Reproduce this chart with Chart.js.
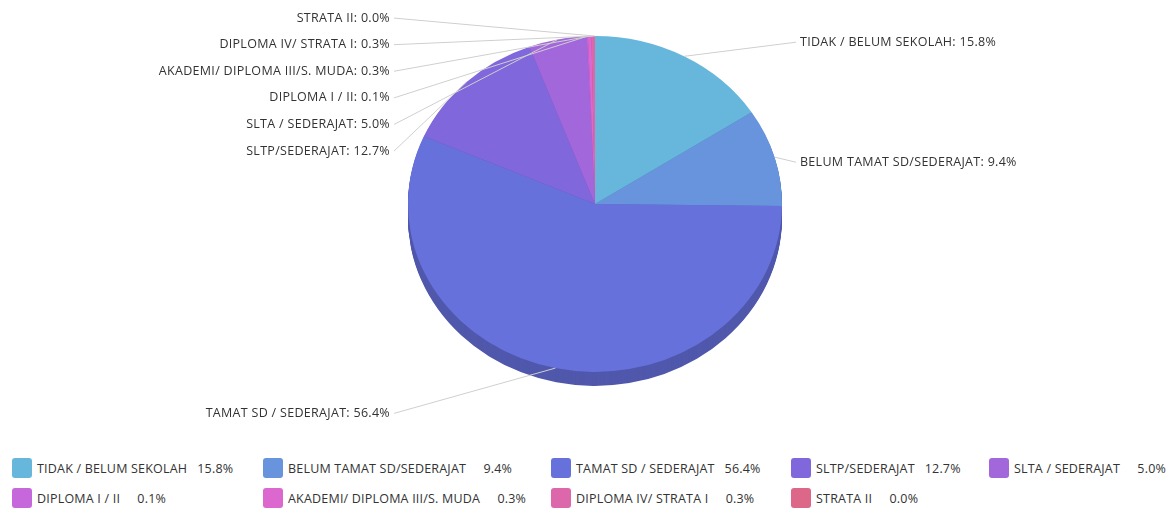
<!DOCTYPE html>
<html>
<head>
<meta charset="utf-8">
<script src="https://cdn.jsdelivr.net/npm/chart.js@4.4.0/dist/chart.umd.min.js"></script>
<style>
  body { margin: 0; background: #fff; font-family: "Open Sans", sans-serif; }
  #wrap { position: relative; width: 1175px; height: 508px; overflow: hidden; }
  #box { position: absolute; left: 0; top: 0; width: 1175px; height: 450px; }
  #legend { position: absolute; left: 12px; top: 458px; display: grid;
    grid-template-columns: 251px 288px 240px 198px 190px; row-gap: 10px; }
  .item { display: flex; align-items: center; height: 20px; font-size: 12.5px; letter-spacing: 0.2px; color: #333; white-space: nowrap; }
  .sw { width: 20px; height: 20px; border-radius: 3px; margin-right: 5px; flex: none; }
  .val { min-width: 46px; text-align: right; }
</style>
</head>
<body>
<div id="wrap">
  <div id="box"><canvas id="myChart"></canvas></div>
  <div id="legend"></div>
</div>
<script>
let categories = [
    'TIDAK / BELUM SEKOLAH',
    'BELUM TAMAT SD/SEDERAJAT',
    'TAMAT SD / SEDERAJAT',
    'SLTP/SEDERAJAT',
    'SLTA / SEDERAJAT',
    'DIPLOMA I / II',
    'AKADEMI/ DIPLOMA III/S. MUDA',
    'DIPLOMA IV/ STRATA I',
    'STRATA II'
];
let percents = [15.8, 9.4, 56.4, 12.7, 5.0, 0.1, 0.3, 0.3, 0.0];
let colors = ['#67b7dc', '#6794dc', '#6771dc', '#8067dc', '#a367dc', '#c767dc', '#dc67ce', '#dc67ab', '#dc6788'];

const squash = 0.898;
const depth = 14;

function darker(hex, f) {
    let n = parseInt(hex.slice(1), 16);
    let r = Math.round(((n >> 16) & 255) * f);
    let g = Math.round(((n >> 8) & 255) * f);
    let b = Math.round((n & 255) * f);
    return 'rgb(' + r + ',' + g + ',' + b + ')';
}

// flattens the pie, draws the side and the outside labels
const pie3d = {
    id: 'pie3d',
    beforeDatasetsDraw(chart) {
        let ctx = chart.ctx;
        let arcs = chart.getDatasetMeta(0).data;
        if (!arcs.length) return;
        let cx = arcs[0].x, cy = arcs[0].y, r = arcs[0].outerRadius;
        ctx.save();
        for (let d = depth; d >= 1; d--) {
            arcs.forEach(function (a, i) {
                if (a.endAngle - a.startAngle <= 0) return;
                ctx.beginPath();
                ctx.moveTo(cx, cy + d);
                ctx.ellipse(cx, cy + d, r, r * squash, 0, a.startAngle, a.endAngle);
                ctx.closePath();
                ctx.fillStyle = darker(colors[i], 0.78);
                ctx.fill();
            });
        }
        ctx.restore();
        ctx.save();
        ctx.translate(0, cy);
        ctx.scale(1, squash);
        ctx.translate(0, -cy);
    },
    afterDatasetsDraw(chart) {
        let ctx = chart.ctx;
        ctx.restore();
        let arcs = chart.getDatasetMeta(0).data;
        if (!arcs.length) return;
        let cx = arcs[0].x, cy = arcs[0].y, r = arcs[0].outerRadius;
        let ry = r * squash;
        let items = arcs.map(function (a, i) {
            let mid = (a.startAngle + a.endAngle) / 2;
            return {
                i: i,
                ex: cx + r * Math.cos(mid),
                ey: cy + ry * Math.sin(mid),
                left: Math.cos(mid) < -0.0001 || Math.abs(mid - 1.5 * Math.PI) < 0.001 || Math.abs(mid + 0.5 * Math.PI) < 0.001,
                y: cy + depth + (ry + 32) * Math.sin(mid)
            };
        });
        [true, false].forEach(function (side) {
            let list = items.filter(function (o) { return o.left === side; });
            list.sort(function (p, q) { return p.y - q.y; });
            for (let k = 1; k < list.length; k++) {
                if (list[k].y < list[k - 1].y + 26.6) list[k].y = list[k - 1].y + 26.6;
            }
        });
        ctx.save();
        ctx.font = '12.5px "Open Sans"';
        ctx.letterSpacing = '0.3px';
        ctx.textBaseline = 'middle';
        items.forEach(function (o) {
            let tx = o.left ? cx - r - 18 : cx + r + 18;
            ctx.strokeStyle = '#cfcfcf';
            ctx.lineWidth = 1;
            ctx.beginPath();
            ctx.moveTo(o.left ? tx + 4 : tx - 4, o.y);
            ctx.lineTo(o.ex, o.ey);
            ctx.stroke();
            ctx.fillStyle = '#333';
            ctx.textAlign = o.left ? 'right' : 'left';
            ctx.fillText(categories[o.i] + ': ' + percents[o.i].toFixed(1) + '%', tx, o.y);
        });
        ctx.restore();
    }
};

let ctx = document.getElementById('myChart');
let myChart = new Chart(ctx, {
    type: 'pie',
    data: {
        labels: categories,
        datasets: [{
            data: percents,
            backgroundColor: colors,
            borderWidth: 0
        }]
    },
    options: {
        responsive: true,
        maintainAspectRatio: false,
        animation: false,
        layout: { padding: { left: 15, right: 0, top: 17, bottom: 59 } },
        plugins: {
            legend: { display: false },
            tooltip: { enabled: false }
        }
    },
    plugins: [pie3d]
});

let legend = document.getElementById('legend');
for (let i = 0; i < categories.length; i++) {
    let item = document.createElement('div');
    item.className = 'item';
    item.innerHTML = '<span class="sw" style="background:' + colors[i] + '"></span>' +
        '<span>' + categories[i] + '</span><span class="val">' + percents[i].toFixed(1) + '%</span>';
    legend.appendChild(item);
}
</script>
</body>
</html>
